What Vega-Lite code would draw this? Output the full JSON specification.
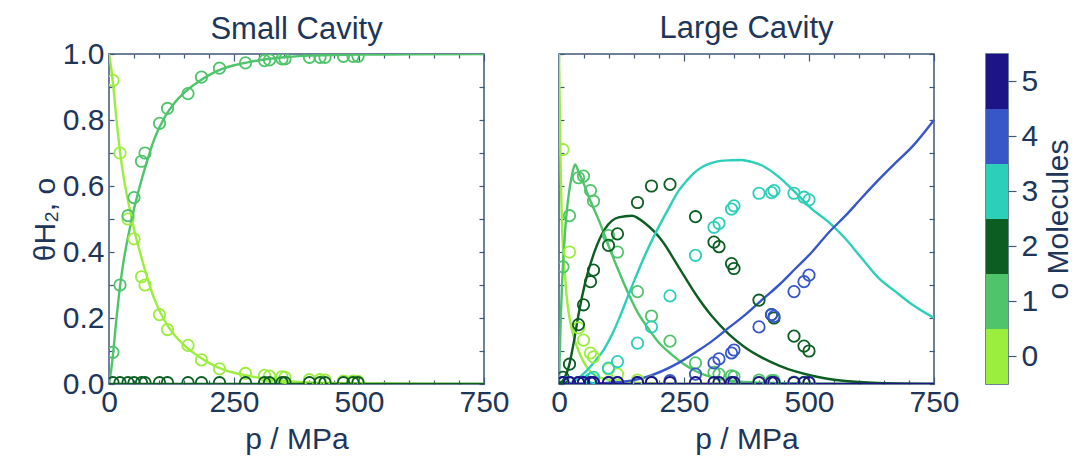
{
"$schema": "https://vega.github.io/schema/vega-lite/v6.json",
"padding": {"left": 29, "top": 12, "right": 0, "bottom": 0},
"bounds": "flush",
"spacing": 75,
"datasets": {
"curves": [
{"c":"S","o":0,"p":0,"t":1},{"c":"S","o":0,"p":5,"t":0.95},{"c":"S","o":0,"p":10,"t":0.88},{"c":"S","o":0,"p":15,"t":0.8},{"c":"S","o":0,"p":20,"t":0.73},{"c":"S","o":0,"p":25,"t":0.67},{"c":"S","o":0,"p":30,"t":0.62},{"c":"S","o":0,"p":40,"t":0.54},{"c":"S","o":0,"p":50,"t":0.47},{"c":"S","o":0,"p":60,"t":0.41},{"c":"S","o":0,"p":75,"t":0.33},{"c":"S","o":0,"p":90,"t":0.26},{"c":"S","o":0,"p":110,"t":0.195},{"c":"S","o":0,"p":130,"t":0.15},{"c":"S","o":0,"p":150,"t":0.118},{"c":"S","o":0,"p":175,"t":0.088},{"c":"S","o":0,"p":200,"t":0.064},{"c":"S","o":0,"p":225,"t":0.046},{"c":"S","o":0,"p":250,"t":0.034},{"c":"S","o":0,"p":275,"t":0.026},{"c":"S","o":0,"p":300,"t":0.019},{"c":"S","o":0,"p":350,"t":0.01},{"c":"S","o":0,"p":400,"t":0.005},{"c":"S","o":0,"p":450,"t":0.003},{"c":"S","o":0,"p":500,"t":0.002},{"c":"S","o":0,"p":600,"t":0.001},{"c":"S","o":0,"p":750,"t":0},
{"c":"S","o":1,"p":0,"t":0},{"c":"S","o":1,"p":5,"t":0.05},{"c":"S","o":1,"p":10,"t":0.12},{"c":"S","o":1,"p":15,"t":0.2},{"c":"S","o":1,"p":20,"t":0.27},{"c":"S","o":1,"p":25,"t":0.33},{"c":"S","o":1,"p":30,"t":0.38},{"c":"S","o":1,"p":40,"t":0.46},{"c":"S","o":1,"p":50,"t":0.53},{"c":"S","o":1,"p":60,"t":0.59},{"c":"S","o":1,"p":75,"t":0.67},{"c":"S","o":1,"p":90,"t":0.74},{"c":"S","o":1,"p":110,"t":0.805},{"c":"S","o":1,"p":130,"t":0.85},{"c":"S","o":1,"p":150,"t":0.882},{"c":"S","o":1,"p":175,"t":0.912},{"c":"S","o":1,"p":200,"t":0.936},{"c":"S","o":1,"p":225,"t":0.954},{"c":"S","o":1,"p":250,"t":0.966},{"c":"S","o":1,"p":275,"t":0.974},{"c":"S","o":1,"p":300,"t":0.981},{"c":"S","o":1,"p":350,"t":0.99},{"c":"S","o":1,"p":400,"t":0.995},{"c":"S","o":1,"p":450,"t":0.997},{"c":"S","o":1,"p":500,"t":0.998},{"c":"S","o":1,"p":600,"t":0.999},{"c":"S","o":1,"p":750,"t":1},
{"c":"S","o":2,"p":0,"t":0},{"c":"S","o":2,"p":250,"t":0},{"c":"S","o":2,"p":500,"t":0},{"c":"S","o":2,"p":750,"t":0},
{"c":"L","o":0,"p":0,"t":1},{"c":"L","o":0,"p":1,"t":0.9},{"c":"L","o":0,"p":2,"t":0.78},{"c":"L","o":0,"p":3,"t":0.68},{"c":"L","o":0,"p":4,"t":0.6},{"c":"L","o":0,"p":6,"t":0.48},{"c":"L","o":0,"p":8,"t":0.41},{"c":"L","o":0,"p":10,"t":0.36},{"c":"L","o":0,"p":12,"t":0.33},{"c":"L","o":0,"p":15,"t":0.27},{"c":"L","o":0,"p":20,"t":0.21},{"c":"L","o":0,"p":25,"t":0.17},{"c":"L","o":0,"p":30,"t":0.14},{"c":"L","o":0,"p":39,"t":0.1},{"c":"L","o":0,"p":50,"t":0.065},{"c":"L","o":0,"p":59,"t":0.044},{"c":"L","o":0,"p":75,"t":0.025},{"c":"L","o":0,"p":100,"t":0.012},{"c":"L","o":0,"p":130,"t":0.006},{"c":"L","o":0,"p":170,"t":0.003},{"c":"L","o":0,"p":250,"t":0.001},{"c":"L","o":0,"p":750,"t":0},
{"c":"L","o":1,"p":0,"t":0},{"c":"L","o":1,"p":2,"t":0.12},{"c":"L","o":1,"p":4,"t":0.22},{"c":"L","o":1,"p":6,"t":0.3},{"c":"L","o":1,"p":9,"t":0.39},{"c":"L","o":1,"p":12,"t":0.46},{"c":"L","o":1,"p":16,"t":0.53},{"c":"L","o":1,"p":20,"t":0.58},{"c":"L","o":1,"p":25,"t":0.625},{"c":"L","o":1,"p":32,"t":0.665},{"c":"L","o":1,"p":40,"t":0.64},{"c":"L","o":1,"p":50,"t":0.605},{"c":"L","o":1,"p":60,"t":0.565},{"c":"L","o":1,"p":80,"t":0.495},{"c":"L","o":1,"p":100,"t":0.415},{"c":"L","o":1,"p":120,"t":0.34},{"c":"L","o":1,"p":140,"t":0.27},{"c":"L","o":1,"p":160,"t":0.21},{"c":"L","o":1,"p":180,"t":0.165},{"c":"L","o":1,"p":200,"t":0.125},{"c":"L","o":1,"p":225,"t":0.09},{"c":"L","o":1,"p":250,"t":0.06},{"c":"L","o":1,"p":275,"t":0.038},{"c":"L","o":1,"p":300,"t":0.023},{"c":"L","o":1,"p":350,"t":0.009},{"c":"L","o":1,"p":400,"t":0.004},{"c":"L","o":1,"p":500,"t":0.001},{"c":"L","o":1,"p":750,"t":0},
{"c":"L","o":2,"p":0,"t":0},{"c":"L","o":2,"p":10,"t":0.015},{"c":"L","o":2,"p":20,"t":0.055},{"c":"L","o":2,"p":25,"t":0.09},{"c":"L","o":2,"p":30,"t":0.13},{"c":"L","o":2,"p":39,"t":0.21},{"c":"L","o":2,"p":52,"t":0.305},{"c":"L","o":2,"p":72,"t":0.405},{"c":"L","o":2,"p":92,"t":0.47},{"c":"L","o":2,"p":119,"t":0.505},{"c":"L","o":2,"p":146,"t":0.51},{"c":"L","o":2,"p":172,"t":0.487},{"c":"L","o":2,"p":206,"t":0.434},{"c":"L","o":2,"p":239,"t":0.355},{"c":"L","o":2,"p":272,"t":0.275},{"c":"L","o":2,"p":306,"t":0.205},{"c":"L","o":2,"p":339,"t":0.152},{"c":"L","o":2,"p":373,"t":0.11},{"c":"L","o":2,"p":406,"t":0.08},{"c":"L","o":2,"p":440,"t":0.056},{"c":"L","o":2,"p":473,"t":0.038},{"c":"L","o":2,"p":506,"t":0.025},{"c":"L","o":2,"p":573,"t":0.009},{"c":"L","o":2,"p":640,"t":0.003},{"c":"L","o":2,"p":750,"t":0},
{"c":"L","o":3,"p":0,"t":0},{"c":"L","o":3,"p":20,"t":0.002},{"c":"L","o":3,"p":39,"t":0.018},{"c":"L","o":3,"p":55,"t":0.04},{"c":"L","o":3,"p":72,"t":0.069},{"c":"L","o":3,"p":90,"t":0.105},{"c":"L","o":3,"p":106,"t":0.15},{"c":"L","o":3,"p":122,"t":0.205},{"c":"L","o":3,"p":139,"t":0.27},{"c":"L","o":3,"p":155,"t":0.33},{"c":"L","o":3,"p":172,"t":0.39},{"c":"L","o":3,"p":189,"t":0.445},{"c":"L","o":3,"p":206,"t":0.495},{"c":"L","o":3,"p":222,"t":0.54},{"c":"L","o":3,"p":239,"t":0.585},{"c":"L","o":3,"p":256,"t":0.617},{"c":"L","o":3,"p":272,"t":0.642},{"c":"L","o":3,"p":289,"t":0.66},{"c":"L","o":3,"p":306,"t":0.67},{"c":"L","o":3,"p":323,"t":0.676},{"c":"L","o":3,"p":343,"t":0.678},{"c":"L","o":3,"p":365,"t":0.679},{"c":"L","o":3,"p":385,"t":0.673},{"c":"L","o":3,"p":406,"t":0.662},{"c":"L","o":3,"p":440,"t":0.627},{"c":"L","o":3,"p":473,"t":0.58},{"c":"L","o":3,"p":506,"t":0.53},{"c":"L","o":3,"p":540,"t":0.49},{"c":"L","o":3,"p":573,"t":0.44},{"c":"L","o":3,"p":606,"t":0.38},{"c":"L","o":3,"p":640,"t":0.32},{"c":"L","o":3,"p":673,"t":0.28},{"c":"L","o":3,"p":707,"t":0.24},{"c":"L","o":3,"p":750,"t":0.2},
{"c":"L","o":4,"p":0,"t":0},{"c":"L","o":4,"p":106,"t":0.004},{"c":"L","o":4,"p":172,"t":0.02},{"c":"L","o":4,"p":239,"t":0.064},{"c":"L","o":4,"p":272,"t":0.095},{"c":"L","o":4,"p":306,"t":0.13},{"c":"L","o":4,"p":339,"t":0.17},{"c":"L","o":4,"p":373,"t":0.21},{"c":"L","o":4,"p":406,"t":0.255},{"c":"L","o":4,"p":440,"t":0.3},{"c":"L","o":4,"p":473,"t":0.35},{"c":"L","o":4,"p":506,"t":0.4},{"c":"L","o":4,"p":540,"t":0.46},{"c":"L","o":4,"p":573,"t":0.51},{"c":"L","o":4,"p":606,"t":0.565},{"c":"L","o":4,"p":640,"t":0.62},{"c":"L","o":4,"p":673,"t":0.67},{"c":"L","o":4,"p":707,"t":0.72},{"c":"L","o":4,"p":750,"t":0.8},
{"c":"L","o":5,"p":0,"t":0},{"c":"L","o":5,"p":750,"t":0}
],
"points": [
{"c":"S","o":0,"p":8,"t":0.92},{"c":"S","o":0,"p":22,"t":0.7},{"c":"S","o":0,"p":38,"t":0.5},{"c":"S","o":0,"p":50,"t":0.44},{"c":"S","o":0,"p":65,"t":0.325},{"c":"S","o":0,"p":72,"t":0.3},{"c":"S","o":0,"p":101,"t":0.21},{"c":"S","o":0,"p":117,"t":0.165},{"c":"S","o":0,"p":158,"t":0.117},{"c":"S","o":0,"p":185,"t":0.073},{"c":"S","o":0,"p":221,"t":0.046},{"c":"S","o":0,"p":273,"t":0.032},{"c":"S","o":0,"p":311,"t":0.026},{"c":"S","o":0,"p":321,"t":0.024},{"c":"S","o":0,"p":346,"t":0.022},{"c":"S","o":0,"p":352,"t":0.02},{"c":"S","o":0,"p":401,"t":0.013},{"c":"S","o":0,"p":422,"t":0.013},{"c":"S","o":0,"p":432,"t":0.012},{"c":"S","o":0,"p":469,"t":0.009},{"c":"S","o":0,"p":488,"t":0.009},{"c":"S","o":0,"p":498,"t":0.008},
{"c":"S","o":1,"p":8,"t":0.096},{"c":"S","o":1,"p":22,"t":0.3},{"c":"S","o":1,"p":38,"t":0.51},{"c":"S","o":1,"p":50,"t":0.565},{"c":"S","o":1,"p":65,"t":0.675},{"c":"S","o":1,"p":72,"t":0.7},{"c":"S","o":1,"p":101,"t":0.79},{"c":"S","o":1,"p":117,"t":0.835},{"c":"S","o":1,"p":158,"t":0.88},{"c":"S","o":1,"p":185,"t":0.93},{"c":"S","o":1,"p":221,"t":0.957},{"c":"S","o":1,"p":273,"t":0.973},{"c":"S","o":1,"p":311,"t":0.98},{"c":"S","o":1,"p":321,"t":0.982},{"c":"S","o":1,"p":346,"t":0.985},{"c":"S","o":1,"p":352,"t":0.985},{"c":"S","o":1,"p":401,"t":0.99},{"c":"S","o":1,"p":422,"t":0.99},{"c":"S","o":1,"p":432,"t":0.99},{"c":"S","o":1,"p":469,"t":0.993},{"c":"S","o":1,"p":488,"t":0.993},{"c":"S","o":1,"p":498,"t":0.993},
{"c":"S","o":2,"p":8,"t":0.004},{"c":"S","o":2,"p":22,"t":0.004},{"c":"S","o":2,"p":38,"t":0.004},{"c":"S","o":2,"p":50,"t":0.004},{"c":"S","o":2,"p":65,"t":0.004},{"c":"S","o":2,"p":72,"t":0.004},{"c":"S","o":2,"p":101,"t":0.004},{"c":"S","o":2,"p":117,"t":0.004},{"c":"S","o":2,"p":158,"t":0.004},{"c":"S","o":2,"p":185,"t":0.004},{"c":"S","o":2,"p":221,"t":0.004},{"c":"S","o":2,"p":273,"t":0.004},{"c":"S","o":2,"p":311,"t":0.004},{"c":"S","o":2,"p":321,"t":0.004},{"c":"S","o":2,"p":346,"t":0.004},{"c":"S","o":2,"p":352,"t":0.004},{"c":"S","o":2,"p":401,"t":0.004},{"c":"S","o":2,"p":422,"t":0.004},{"c":"S","o":2,"p":432,"t":0.004},{"c":"S","o":2,"p":469,"t":0.004},{"c":"S","o":2,"p":488,"t":0.004},{"c":"S","o":2,"p":498,"t":0.004},
{"c":"L","o":0,"p":8,"t":0.71},{"c":"L","o":0,"p":21,"t":0.4},{"c":"L","o":0,"p":39,"t":0.17},{"c":"L","o":0,"p":49,"t":0.133},{"c":"L","o":0,"p":63,"t":0.094},{"c":"L","o":0,"p":69,"t":0.082},{"c":"L","o":0,"p":99,"t":0.045},{"c":"L","o":0,"p":117,"t":0.03},{"c":"L","o":0,"p":157,"t":0.012},{"c":"L","o":0,"p":185,"t":0.006},{"c":"L","o":0,"p":222,"t":0.004},{"c":"L","o":0,"p":273,"t":0.004},{"c":"L","o":0,"p":310,"t":0.004},{"c":"L","o":0,"p":320,"t":0.004},{"c":"L","o":0,"p":345,"t":0.004},{"c":"L","o":0,"p":350,"t":0.004},{"c":"L","o":0,"p":400,"t":0.004},{"c":"L","o":0,"p":425,"t":0.004},{"c":"L","o":0,"p":430,"t":0.004},{"c":"L","o":0,"p":470,"t":0.004},{"c":"L","o":0,"p":490,"t":0.004},{"c":"L","o":0,"p":500,"t":0.004},
{"c":"L","o":1,"p":8,"t":0.355},{"c":"L","o":1,"p":21,"t":0.51},{"c":"L","o":1,"p":39,"t":0.625},{"c":"L","o":1,"p":49,"t":0.63},{"c":"L","o":1,"p":63,"t":0.586},{"c":"L","o":1,"p":69,"t":0.554},{"c":"L","o":1,"p":99,"t":0.45},{"c":"L","o":1,"p":117,"t":0.4},{"c":"L","o":1,"p":157,"t":0.28},{"c":"L","o":1,"p":185,"t":0.206},{"c":"L","o":1,"p":222,"t":0.13},{"c":"L","o":1,"p":273,"t":0.064},{"c":"L","o":1,"p":310,"t":0.035},{"c":"L","o":1,"p":320,"t":0.03},{"c":"L","o":1,"p":345,"t":0.025},{"c":"L","o":1,"p":350,"t":0.022},{"c":"L","o":1,"p":400,"t":0.012},{"c":"L","o":1,"p":425,"t":0.01},{"c":"L","o":1,"p":430,"t":0.01},{"c":"L","o":1,"p":470,"t":0.006},{"c":"L","o":1,"p":490,"t":0.005},{"c":"L","o":1,"p":500,"t":0.005},
{"c":"L","o":2,"p":8,"t":0.02},{"c":"L","o":2,"p":21,"t":0.06},{"c":"L","o":2,"p":39,"t":0.18},{"c":"L","o":2,"p":49,"t":0.24},{"c":"L","o":2,"p":63,"t":0.31},{"c":"L","o":2,"p":69,"t":0.345},{"c":"L","o":2,"p":99,"t":0.42},{"c":"L","o":2,"p":117,"t":0.455},{"c":"L","o":2,"p":157,"t":0.55},{"c":"L","o":2,"p":185,"t":0.6},{"c":"L","o":2,"p":222,"t":0.605},{"c":"L","o":2,"p":273,"t":0.507},{"c":"L","o":2,"p":310,"t":0.43},{"c":"L","o":2,"p":320,"t":0.416},{"c":"L","o":2,"p":345,"t":0.365},{"c":"L","o":2,"p":350,"t":0.35},{"c":"L","o":2,"p":400,"t":0.254},{"c":"L","o":2,"p":425,"t":0.21},{"c":"L","o":2,"p":430,"t":0.2},{"c":"L","o":2,"p":470,"t":0.145},{"c":"L","o":2,"p":490,"t":0.115},{"c":"L","o":2,"p":500,"t":0.1},
{"c":"L","o":3,"p":8,"t":0.004},{"c":"L","o":3,"p":21,"t":0.004},{"c":"L","o":3,"p":39,"t":0.004},{"c":"L","o":3,"p":49,"t":0.006},{"c":"L","o":3,"p":63,"t":0.015},{"c":"L","o":3,"p":69,"t":0.02},{"c":"L","o":3,"p":99,"t":0.048},{"c":"L","o":3,"p":117,"t":0.068},{"c":"L","o":3,"p":157,"t":0.124},{"c":"L","o":3,"p":185,"t":0.173},{"c":"L","o":3,"p":222,"t":0.267},{"c":"L","o":3,"p":273,"t":0.39},{"c":"L","o":3,"p":310,"t":0.475},{"c":"L","o":3,"p":320,"t":0.487},{"c":"L","o":3,"p":345,"t":0.53},{"c":"L","o":3,"p":350,"t":0.54},{"c":"L","o":3,"p":400,"t":0.578},{"c":"L","o":3,"p":425,"t":0.58},{"c":"L","o":3,"p":430,"t":0.586},{"c":"L","o":3,"p":470,"t":0.578},{"c":"L","o":3,"p":490,"t":0.566},{"c":"L","o":3,"p":500,"t":0.558},
{"c":"L","o":4,"p":8,"t":0.004},{"c":"L","o":4,"p":21,"t":0.004},{"c":"L","o":4,"p":39,"t":0.004},{"c":"L","o":4,"p":49,"t":0.004},{"c":"L","o":4,"p":63,"t":0.004},{"c":"L","o":4,"p":69,"t":0.004},{"c":"L","o":4,"p":99,"t":0.004},{"c":"L","o":4,"p":117,"t":0.004},{"c":"L","o":4,"p":157,"t":0.004},{"c":"L","o":4,"p":185,"t":0.005},{"c":"L","o":4,"p":222,"t":0.01},{"c":"L","o":4,"p":273,"t":0.03},{"c":"L","o":4,"p":310,"t":0.064},{"c":"L","o":4,"p":320,"t":0.076},{"c":"L","o":4,"p":345,"t":0.094},{"c":"L","o":4,"p":350,"t":0.103},{"c":"L","o":4,"p":400,"t":0.173},{"c":"L","o":4,"p":425,"t":0.21},{"c":"L","o":4,"p":430,"t":0.205},{"c":"L","o":4,"p":470,"t":0.28},{"c":"L","o":4,"p":490,"t":0.31},{"c":"L","o":4,"p":500,"t":0.33},
{"c":"L","o":5,"p":8,"t":0.004},{"c":"L","o":5,"p":21,"t":0.004},{"c":"L","o":5,"p":39,"t":0.004},{"c":"L","o":5,"p":49,"t":0.004},{"c":"L","o":5,"p":63,"t":0.004},{"c":"L","o":5,"p":69,"t":0.004},{"c":"L","o":5,"p":99,"t":0.004},{"c":"L","o":5,"p":117,"t":0.004},{"c":"L","o":5,"p":157,"t":0.004},{"c":"L","o":5,"p":185,"t":0.004},{"c":"L","o":5,"p":222,"t":0.004},{"c":"L","o":5,"p":273,"t":0.004},{"c":"L","o":5,"p":310,"t":0.004},{"c":"L","o":5,"p":320,"t":0.004},{"c":"L","o":5,"p":345,"t":0.004},{"c":"L","o":5,"p":350,"t":0.004},{"c":"L","o":5,"p":400,"t":0.004},{"c":"L","o":5,"p":425,"t":0.004},{"c":"L","o":5,"p":430,"t":0.004},{"c":"L","o":5,"p":470,"t":0.004},{"c":"L","o":5,"p":490,"t":0.004},{"c":"L","o":5,"p":500,"t":0.004}
],
"bar": [{"o":0},{"o":1},{"o":2},{"o":3},{"o":4},{"o":5}]
},
"hconcat": [
{
"width": 375, "height": 330,
"title": {"text": "Small Cavity", "anchor": "middle", "frame": "group", "offset": -7},
"layer": [
{"data": {"name": "curves"}, "transform": [{"filter": "datum.c === 'S'"}],
 "mark": {"type": "line", "strokeWidth": 2.4, "clip": true, "interpolate": "monotone"},
 "encoding": {
  "x": {"field": "p", "type": "quantitative", "scale": {"domain": [0, 750], "nice": false}, "axis": {"values": [0,50,100,150,200,250,300,350,400,450,500,550,600,650,700,750], "labelExpr": "datum.value % 250 === 0 ? datum.label : ''", "labelOverlap": false, "title": "p / MPa", "labelPadding": 10, "titlePadding": 4, "tickSize": {"condition": {"test": "datum.value % 250 === 0", "value": -7}, "value": -4}}},
  "y": {"field": "t", "type": "quantitative", "scale": {"domain": [0, 1], "nice": false}, "axis": {"values": [0,0.1,0.2,0.3,0.4,0.5,0.6,0.7,0.8,0.9,1], "labelExpr": "round(datum.value*10) % 2 === 0 ? format(datum.value, '.1f') : ''", "labelOverlap": false, "labelPadding": 10, "title": "θH₂, o"}},
  "color": {"field": "o", "type": "ordinal", "scale": {"domain": [0,1,2,3,4,5], "range": ["#9cee3e","#4fc46b","#0b5d22","#2ccfb8","#3757c9","#1d1587"]}, "legend": null}
 }},
{"data": {"name": "points"}, "transform": [{"filter": "datum.c === 'S'"}],
 "mark": {"type": "point", "shape": "circle", "filled": false, "size": 130, "strokeWidth": 1.8, "opacity": 1, "clip": true},
 "encoding": {
  "x": {"field": "p", "type": "quantitative", "axis": {"orient": "top", "values": [0,50,100,150,200,250,300,350,400,450,500,550,600,650,700,750], "labels": false, "title": null, "tickSize": {"condition": {"test": "datum.value % 250 === 0", "value": -7}, "value": -4}}},
  "y": {"field": "t", "type": "quantitative", "axis": {"orient": "right", "values": [0,0.1,0.2,0.3,0.4,0.5,0.6,0.7,0.8,0.9,1], "labels": false, "title": null}},
  "color": {"field": "o", "type": "ordinal", "legend": null}
 }}
],
"resolve": {"axis": {"x": "independent", "y": "independent"}}
},
{
"hconcat": [
{
"width": 375, "height": 330,
"title": {"text": "Large Cavity", "anchor": "middle", "frame": "group", "offset": 8},
"layer": [
{"data": {"name": "curves"}, "transform": [{"filter": "datum.c === 'L'"}],
 "mark": {"type": "line", "strokeWidth": 2.4, "clip": true, "interpolate": "monotone"},
 "encoding": {
  "x": {"field": "p", "type": "quantitative", "scale": {"domain": [0, 750], "nice": false}, "axis": {"values": [0,50,100,150,200,250,300,350,400,450,500,550,600,650,700,750], "labelExpr": "datum.value % 250 === 0 ? datum.label : ''", "labelOverlap": false, "title": "p / MPa", "labelPadding": 10, "titlePadding": 4, "tickSize": {"condition": {"test": "datum.value % 250 === 0", "value": -7}, "value": -4}}},
  "y": {"field": "t", "type": "quantitative", "scale": {"domain": [0, 1], "nice": false}, "axis": {"values": [0,0.1,0.2,0.3,0.4,0.5,0.6,0.7,0.8,0.9,1], "labels": false, "title": null}},
  "color": {"field": "o", "type": "ordinal", "legend": null}
 }},
{"data": {"name": "points"}, "transform": [{"filter": "datum.c === 'L'"}],
 "mark": {"type": "point", "shape": "circle", "filled": false, "size": 130, "strokeWidth": 1.8, "opacity": 1, "clip": true},
 "encoding": {
  "x": {"field": "p", "type": "quantitative", "axis": {"orient": "top", "values": [0,50,100,150,200,250,300,350,400,450,500,550,600,650,700,750], "labels": false, "title": null, "tickSize": {"condition": {"test": "datum.value % 250 === 0", "value": -7}, "value": -4}}},
  "y": {"field": "t", "type": "quantitative", "axis": {"orient": "right", "values": [0,0.1,0.2,0.3,0.4,0.5,0.6,0.7,0.8,0.9,1], "labels": false, "title": null}},
  "color": {"field": "o", "type": "ordinal", "legend": null}
 }}
],
"resolve": {"axis": {"x": "independent", "y": "independent"}}
},
{
"width": 22, "height": 330,
"data": {"name": "bar"},
"mark": {"type": "rect"},
"encoding": {
 "y": {"field": "o", "type": "ordinal", "sort": "descending", "scale": {"paddingInner": 0, "paddingOuter": 0}, "axis": {"orient": "right", "title": "o Molecules", "titleAngle": 270, "titleBaseline": "top", "tickSize": 8, "labelPadding": 5, "labelAngle": 0, "titlePadding": 6}},
 "color": {"field": "o", "type": "ordinal", "legend": null}
}
}
],
"spacing": 52,
"bounds": "flush"
}
],
"config": {
 "font": "Liberation Sans",
 "view": {"stroke": "#3f5878", "strokeWidth": 1.5},
 "axis": {"domain": false, "grid": false, "labelColor": "#1d3659", "titleColor": "#1d3659", "tickColor": "#3f5878", "labelFontSize": 30, "titleFontSize": 30, "titleFontWeight": "normal", "tickSize": -5, "tickWidth": 1.2, "labelPadding": 8, "titlePadding": 2, "labelFlush": false},
 "title": {"fontSize": 31, "fontWeight": "normal", "color": "#1d3659"}
}
}
